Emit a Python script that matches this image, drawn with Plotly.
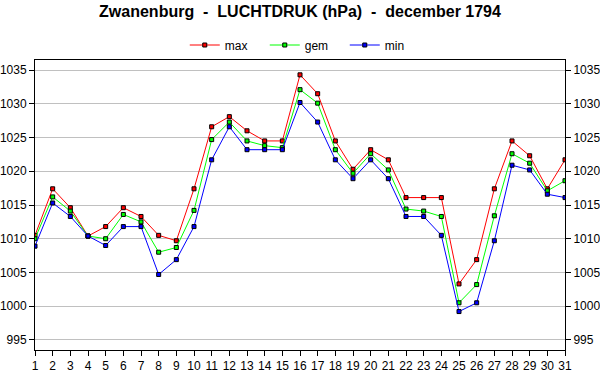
import plotly.graph_objects as go

days = list(range(1, 32))
p_max = [1010.5, 1017.4, 1014.6, 1010.4, 1011.8, 1014.6, 1013.3, 1010.5, 1009.7, 1017.4,
         1026.6, 1028.1, 1026.0, 1024.5, 1024.5, 1034.3, 1031.5, 1024.5, 1020.3, 1023.2,
         1021.7, 1016.1, 1016.1, 1016.1, 1003.3, 1006.9, 1017.4, 1024.5, 1022.3, 1017.4, 1021.7]
p_gem = [1010.0, 1016.2, 1014.1, 1010.4, 1010.0, 1013.6, 1012.5, 1008.0, 1008.7, 1014.2,
         1024.7, 1027.3, 1024.5, 1023.8, 1023.5, 1032.1, 1030.1, 1023.2, 1019.7, 1022.6,
         1020.2, 1014.4, 1014.1, 1013.3, 1000.5, 1003.2, 1013.4, 1022.6, 1021.2, 1017.1, 1018.6]
p_min = [1008.9, 1015.3, 1013.3, 1010.4, 1009.0, 1011.8, 1011.8, 1004.7, 1006.9, 1011.8,
         1021.7, 1026.6, 1023.2, 1023.2, 1023.2, 1030.2, 1027.3, 1021.7, 1018.9, 1021.7,
         1018.9, 1013.3, 1013.3, 1010.5, 999.2, 1000.5, 1009.7, 1020.9, 1020.2, 1016.6, 1016.1]
y_ticks = [995, 1000, 1005, 1010, 1015, 1020, 1025, 1030, 1035]

series = [("max", p_max, "#ff0000"), ("gem", p_gem, "#00ff00"), ("min", p_min, "#0000ff")]
yr = [993.5, 1036.5]

fig = go.Figure()
for name, vals, col in series:
    fig.add_trace(go.Scatter(
        x=days, y=vals, name=name, mode="lines+markers",
        line=dict(color=col, width=1),
        marker=dict(symbol="square", size=4, color=col, line=dict(color="black", width=1)),
    ))
# invisible trace to make the right axis appear
fig.add_trace(go.Scatter(x=days, y=p_max, yaxis="y2", mode="lines", line=dict(width=0),
                         showlegend=False, hoverinfo="skip", opacity=0))

tickfont = dict(family="Liberation Sans, Arial, sans-serif", size=12, color="black")
fig.update_layout(
    width=600, height=390,
    margin=dict(l=35, r=35, t=60, b=40, autoexpand=False),
    paper_bgcolor="white", plot_bgcolor="white",
    font=dict(family="Liberation Sans, Arial, sans-serif", color="black"),
    title=dict(text="<b>Zwanenburg  -  LUCHTDRUK (hPa)  -  december 1794</b>",
               x=0.5, xanchor="center", y=1 - 11 / 390, yanchor="middle", yref="container",
               font=dict(size=16, family="Liberation Sans, Arial, sans-serif", color="black")),
    legend=dict(orientation="h", x=0.509, xanchor="center", y=1 + 15 / 290, yanchor="middle",
                font=dict(size=12), bgcolor="rgba(0,0,0,0)", itemwidth=30,
                entrywidth=35, entrywidthmode="pixels"),
    xaxis=dict(range=[1, 31], tickmode="array", tickvals=days, ticktext=[str(d) for d in days],
               showgrid=False, zeroline=False, showline=True, linecolor="black", linewidth=1,
               mirror=True, ticks="outside", ticklen=5, tickcolor="black", tickfont=tickfont,
               automargin=False),
    yaxis=dict(range=yr, tickmode="array", tickvals=y_ticks, ticktext=[str(v) for v in y_ticks],
               showgrid=True, gridcolor="#c0c0c0", gridwidth=1, zeroline=False,
               showline=True, linecolor="black", linewidth=1, mirror=True,
               ticks="outside", ticklen=5, tickcolor="black", tickfont=tickfont,
               automargin=False),
    yaxis2=dict(range=yr, overlaying="y", side="right", tickmode="array", tickvals=y_ticks,
                ticktext=[str(v) for v in y_ticks], showgrid=False, zeroline=False,
                showline=False, ticks="outside", ticklen=5, tickcolor="black", tickfont=tickfont,
                automargin=False),
    showlegend=True,
)
fig.write_html("out.html", config={"displayModeBar": False},
               post_script="document.body.style.margin='0';document.body.style.overflow='hidden';")
